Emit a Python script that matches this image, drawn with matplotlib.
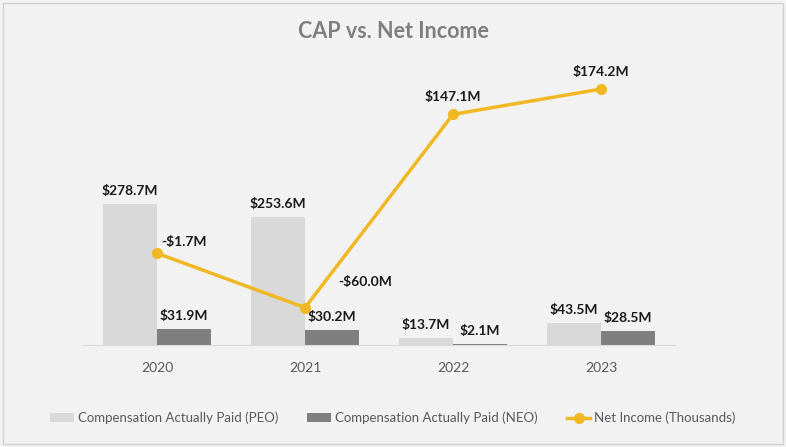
import matplotlib.pyplot as plt
import numpy as np
from matplotlib.patches import Rectangle

plt.rcParams['font.family'] = ['Lato', 'DejaVu Sans']

years = ['2020', '2021', '2022', '2023']
cap_peo = [278.7, 253.6, 13.7, 43.5]
cap_neo = [31.9, 30.2, 2.1, 28.5]
net_income = [-1.7, -60.0, 147.1, 174.2]

peo_labels = ['$278.7M', '$253.6M', '$13.7M', '$43.5M']
neo_labels = ['$31.9M', '$30.2M', '$2.1M', '$28.5M']
ni_labels = ['-$1.7M', '-$60.0M', '$147.1M', '$174.2M']

bg = '#f2f2f2'
c_peo = '#d9d9d9'
c_neo = '#7f7f7f'
c_line = '#f0b823'

fig = plt.figure(figsize=(7.86, 4.47), dpi=100)
fig.patch.set_facecolor(bg)
fig.patches.append(Rectangle((0.004, 0.006), 0.992, 0.988, transform=fig.transFigure,
                             fill=False, edgecolor='#d0d0d0', lw=1))

ax = fig.add_axes([83 / 786, 1 - 345 / 447, 592 / 786, 280 / 447])
ax.set_facecolor(bg)
x = np.arange(len(years))
w = 0.365
b1 = ax.bar(x - w / 2, cap_peo, w, color=c_peo, label='Compensation Actually Paid (PEO)')
b2 = ax.bar(x + w / 2, cap_neo, w, color=c_neo, label='Compensation Actually Paid (NEO)')
ax.set_ylim(0, 553)
ax.set_xlim(-0.5, 3.5)
for s in ['top', 'right', 'left']:
    ax.spines[s].set_visible(False)
ax.spines['bottom'].set_color('#d9d9d9')
ax.set_yticks([])
ax.set_xticks(x)
ax.set_xticklabels(years, fontsize=10, color='#595959')
ax.tick_params(axis='x', length=0, pad=12)

for i in range(len(years)):
    ax.annotate(peo_labels[i], (x[i] - w / 2, cap_peo[i]), xytext=(0, 5), textcoords='offset points',
                ha='center', va='bottom', fontsize=10, fontweight='bold', color='#1a1a1a')
    ax.annotate(neo_labels[i], (x[i] + w / 2, cap_neo[i]), xytext=(0, 5), textcoords='offset points',
                ha='center', va='bottom', fontsize=10, fontweight='bold', color='#1a1a1a')

ax2 = ax.twinx()
ax2.set_ylim(-100, 200)
ln, = ax2.plot(x, net_income, color=c_line, lw=2.5, marker='o', ms=7, label='Net Income (Thousands)')
ax2.axis('off')

offs = [(3, 4, 'left'), (24, 14, 'left'), (0, 8, 'center'), (0, 8, 'center')]
for i in range(len(years)):
    dx, dy, ha = offs[i]
    ax2.annotate(ni_labels[i], (x[i], net_income[i]), xytext=(dx, dy), textcoords='offset points',
                 ha=ha, va='bottom', fontsize=10, fontweight='bold', color='#1a1a1a')

fig.text(0.5, 1 - 32 / 447, 'CAP vs. Net Income', ha='center', va='center',
         fontsize=15.5, fontweight='bold', color='#7f7f7f')

fig.legend(handles=[b1, b2, ln], loc='center', bbox_to_anchor=(0.5, 1 - 418 / 447), ncol=3,
           frameon=False, fontsize=9.5, labelcolor='#595959', handlelength=1.8,
           handletextpad=0.3, columnspacing=2.2)

fig.savefig('out.png', dpi=100, facecolor=bg)
